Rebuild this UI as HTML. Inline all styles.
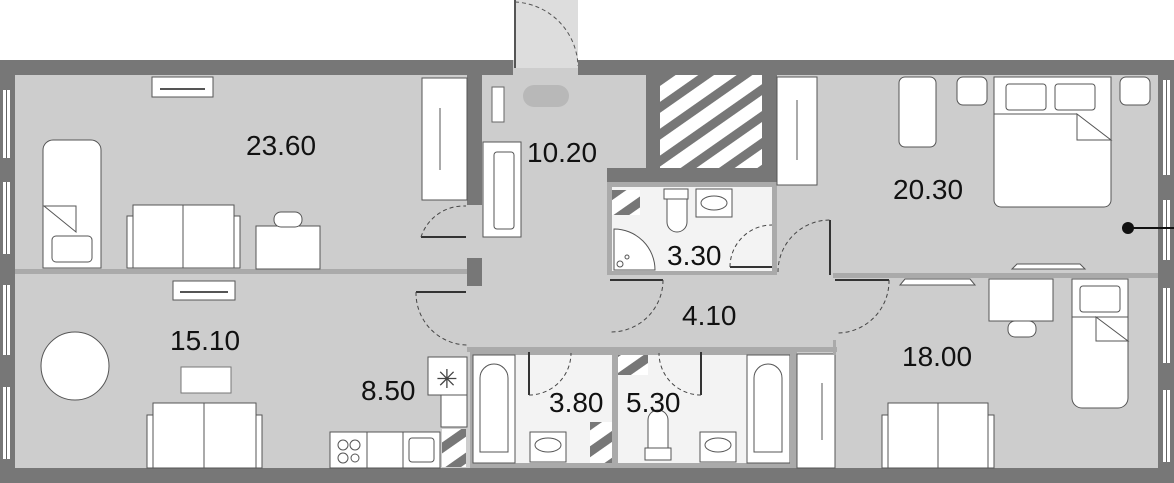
<!DOCTYPE html>
<html><head><meta charset="utf-8"><style>
html,body{margin:0;padding:0;background:#fff;}
svg{display:block;}
text{font-family:"Liberation Sans",sans-serif;font-size:28px;fill:#111;}
</style></head><body>
<svg width="1174" height="483" viewBox="0 0 1174 483" xmlns="http://www.w3.org/2000/svg">
<defs>
<pattern id="hatch" patternUnits="userSpaceOnUse" width="22" height="22" patternTransform="rotate(-35)">
<rect width="22" height="22" fill="#fff"/><rect width="22" height="9" fill="#777"/>
</pattern>
</defs>
<rect x="0" y="60" width="1174" height="423" fill="#cdcdcd"/>
<rect x="515" y="0" width="63" height="68" fill="#ddd"/>
<line x1="515" y1="0" x2="515" y2="68" stroke="#555" stroke-width="2"/>
<path d="M515 2 A66 66 0 0 1 578 66" fill="none" stroke="#555" stroke-dasharray="4 3"/>
<rect x="0" y="60" width="513" height="15" fill="#777"/>
<rect x="578" y="60" width="596" height="15" fill="#777"/>
<!-- left wall -->
<rect x="0" y="60" width="15" height="423" fill="#777"/>
<rect x="3" y="90" width="7" height="68" fill="#fff"/><line x1="6.5" y1="90" x2="6.5" y2="158" stroke="#666"/>
<rect x="3" y="182" width="7" height="72" fill="#fff"/><line x1="6.5" y1="182" x2="6.5" y2="254" stroke="#666"/>
<rect x="3" y="285" width="7" height="70" fill="#fff"/><line x1="6.5" y1="285" x2="6.5" y2="355" stroke="#666"/>
<rect x="3" y="387" width="7" height="72" fill="#fff"/><line x1="6.5" y1="387" x2="6.5" y2="459" stroke="#666"/>
<!-- right wall -->
<rect x="1158" y="60" width="16" height="423" fill="#777"/>
<rect x="1163" y="80" width="7" height="95" fill="#fff"/><line x1="1166.5" y1="80" x2="1166.5" y2="175" stroke="#666"/>
<rect x="1163" y="200" width="7" height="60" fill="#fff"/><line x1="1166.5" y1="200" x2="1166.5" y2="260" stroke="#666"/>
<rect x="1163" y="288" width="7" height="75" fill="#fff"/><line x1="1166.5" y1="288" x2="1166.5" y2="363" stroke="#666"/>
<rect x="1163" y="390" width="7" height="72" fill="#fff"/><line x1="1166.5" y1="390" x2="1166.5" y2="462" stroke="#666"/>
<rect x="0" y="468" width="1174" height="15" fill="#777"/>
<!-- partitions -->
<rect x="15" y="269" width="453" height="5" fill="#aaa"/>
<rect x="467" y="75" width="15" height="130" fill="#777"/>
<rect x="467" y="258" width="15" height="28" fill="#777"/>
<line x1="421" y1="237" x2="466" y2="237" stroke="#333" stroke-width="2"/>
<path d="M421 237 A45 45 0 0 1 466 206" fill="none" stroke="#444" stroke-dasharray="4 3"/>
<line x1="416" y1="292" x2="466" y2="292" stroke="#333" stroke-width="2"/>
<path d="M416 292 A52 52 0 0 0 468 345" fill="none" stroke="#444" stroke-dasharray="4 3"/>
<rect x="646" y="75" width="14" height="107" fill="#777"/>
<rect x="660" y="75" width="102" height="93" fill="url(#hatch)"/>
<rect x="762" y="75" width="15" height="107" fill="#777"/>
<rect x="607" y="168" width="170" height="14" fill="#777"/>
<!-- bath 3.30 -->
<rect x="607" y="182" width="170" height="93" fill="#aaa"/>
<rect x="612" y="187" width="160" height="84" fill="#f3f3f3"/>
<rect x="612" y="190" width="28" height="25" fill="url(#hatch)"/>
<path d="M614 270 L614 229 A41 41 0 0 1 655 270 Z" fill="#fff" stroke="#555"/>
<circle cx="620" cy="264" r="3" fill="none" stroke="#555"/><circle cx="627" cy="257" r="2" fill="none" stroke="#555"/>
<rect x="664" y="189" width="24" height="10" fill="#fff" stroke="#555"/>
<path d="M667 199 L667 222 A10 10 0 0 0 687 222 L687 199 Z" fill="#fff" stroke="#555"/>
<rect x="696" y="189" width="36" height="28" fill="#fff" stroke="#555"/>
<ellipse cx="714" cy="203" rx="13" ry="7" fill="none" stroke="#555"/>
<line x1="730" y1="267" x2="772" y2="267" stroke="#333" stroke-width="2"/>
<path d="M730 267 A42 42 0 0 1 772 225" fill="none" stroke="#444" stroke-dasharray="4 3"/>
<line x1="830" y1="220" x2="830" y2="275" stroke="#333" stroke-width="2"/>
<path d="M778 272 A52 52 0 0 1 830 220" fill="none" stroke="#444" stroke-dasharray="4 3"/>
<rect x="833" y="273" width="325" height="5" fill="#aaa"/>
<line x1="610" y1="280" x2="663" y2="280" stroke="#333" stroke-width="2"/>
<path d="M663 280 A52 52 0 0 1 611 332" fill="none" stroke="#444" stroke-dasharray="4 3"/>
<line x1="835" y1="280" x2="889" y2="280" stroke="#333" stroke-width="2"/>
<path d="M889 280 A52 52 0 0 1 837 333" fill="none" stroke="#444" stroke-dasharray="4 3"/>
<rect x="777" y="77" width="40" height="108" fill="#fff" stroke="#555"/>
<line x1="797" y1="100" x2="797" y2="160" stroke="#555"/>
<rect x="422" y="78" width="45" height="122" fill="#fff" stroke="#555"/>
<line x1="440" y1="108" x2="440" y2="170" stroke="#555"/>
<rect x="483" y="142" width="38" height="95" fill="#fff" stroke="#555"/>
<rect x="494" y="152" width="20" height="77" rx="3" fill="#fff" stroke="#555"/>
<rect x="523" y="85" width="46" height="22" rx="11" fill="#b8b8b8"/>
<rect x="492" y="87" width="12" height="35" fill="#fff" stroke="#666"/>
<!-- bathrooms bottom -->
<rect x="467" y="347" width="370" height="5" fill="#aaa"/>
<rect x="470" y="352" width="142" height="116" fill="#aaa"/>
<rect x="473" y="355" width="139" height="108" fill="#f3f3f3"/>
<rect x="618" y="352" width="172" height="116" fill="#aaa"/>
<rect x="618" y="355" width="169" height="108" fill="#f3f3f3"/>
<rect x="612" y="352" width="6" height="116" fill="#aaa"/>
<rect x="618" y="355" width="30" height="20" fill="url(#hatch)"/>
<rect x="590" y="422" width="22" height="41" fill="url(#hatch)"/>
<rect x="473" y="355" width="42" height="108" fill="#fff" stroke="#555"/>
<path d="M480 452 L480 378 A14 14 0 0 1 508 378 L508 452 Z" fill="#fff" stroke="#555"/>
<rect x="530" y="432" width="36" height="30" fill="#fff" stroke="#555"/>
<ellipse cx="548" cy="445" rx="13" ry="7" fill="none" stroke="#555"/>
<line x1="529" y1="352" x2="529" y2="395" stroke="#333" stroke-width="2"/>
<path d="M529 395 A42 42 0 0 0 571 353" fill="none" stroke="#444" stroke-dasharray="4 3"/>
<line x1="701" y1="352" x2="701" y2="395" stroke="#333" stroke-width="2"/>
<path d="M701 395 A42 42 0 0 1 659 353" fill="none" stroke="#444" stroke-dasharray="4 3"/>
<path d="M648 420 A10 10 0 0 1 668 420 L668 448 L648 448 Z" fill="#fff" stroke="#555"/>
<rect x="645" y="448" width="26" height="12" fill="#fff" stroke="#555"/>
<rect x="700" y="432" width="36" height="30" fill="#fff" stroke="#555"/>
<ellipse cx="718" cy="445" rx="13" ry="7" fill="none" stroke="#555"/>
<rect x="747" y="355" width="43" height="108" fill="#fff" stroke="#555"/>
<path d="M754 452 L754 378 A14 14 0 0 1 782 378 L782 452 Z" fill="#fff" stroke="#555"/>
<rect x="790" y="352" width="7" height="116" fill="#aaa"/>
<rect x="797" y="354" width="38" height="114" fill="#fff" stroke="#555"/>
<line x1="822" y1="383" x2="822" y2="440" stroke="#555"/>
<rect x="833" y="340" width="3" height="15" fill="#aaa"/>
<!-- kitchen -->
<rect x="428" y="357" width="39" height="38" fill="#fff" stroke="#555"/>
<text x="436" y="388" style="font-size:26px;fill:#444">✳</text>
<rect x="441" y="395" width="26" height="32" fill="#fff" stroke="#555"/>
<rect x="442" y="429" width="24" height="38" fill="url(#hatch)"/>
<rect x="330" y="432" width="37" height="36" fill="#fff" stroke="#555"/>
<circle cx="343" cy="445" r="5" fill="none" stroke="#555"/><circle cx="355" cy="445" r="5" fill="none" stroke="#555"/>
<circle cx="343" cy="458" r="5" fill="none" stroke="#555"/><circle cx="355" cy="458" r="4" fill="none" stroke="#555"/>
<rect x="367" y="432" width="36" height="36" fill="#fff" stroke="#555"/>
<rect x="403" y="432" width="37" height="36" fill="#fff" stroke="#555"/>
<rect x="409" y="438" width="25" height="24" rx="3" fill="none" stroke="#555"/>
<!-- 23.60 furniture -->
<rect x="152" y="77" width="61" height="20" fill="#fff" stroke="#555"/>
<line x1="160" y1="89" x2="205" y2="89" stroke="#555" stroke-width="2"/>
<path d="M43 268 L43 150 A10 10 0 0 1 53 140 L91 140 A10 10 0 0 1 101 150 L101 268 Z" fill="#fff" stroke="#555"/>
<path d="M44 206 L76 206 L76 232 Z" fill="#fff" stroke="#555"/>
<rect x="52" y="236" width="40" height="26" rx="4" fill="#fff" stroke="#555"/>
<rect x="127" y="216" width="113" height="52" fill="#fff" stroke="#555"/>
<rect x="133" y="205" width="101" height="63" fill="#fff" stroke="#555"/>
<line x1="183" y1="205" x2="183" y2="268" stroke="#555"/>
<rect x="256" y="226" width="64" height="43" fill="#fff" stroke="#555"/>
<rect x="274" y="212" width="28" height="15" rx="7" fill="#fff" stroke="#555"/>
<!-- 15.10 furniture -->
<rect x="173" y="281" width="62" height="19" fill="#fff" stroke="#555"/>
<line x1="180" y1="292" x2="228" y2="292" stroke="#555" stroke-width="2"/>
<circle cx="75" cy="366" r="34" fill="#fff" stroke="#555"/>
<rect x="181" y="367" width="50" height="26" fill="#fff" stroke="#777"/>
<rect x="147" y="415" width="115" height="53" fill="#fff" stroke="#555"/>
<rect x="153" y="403" width="103" height="65" fill="#fff" stroke="#555"/>
<line x1="204" y1="403" x2="204" y2="468" stroke="#555"/>
<!-- 20.30 furniture -->
<rect x="899" y="77" width="37" height="70" rx="6" fill="#fff" stroke="#555"/>
<rect x="957" y="77" width="30" height="28" rx="6" fill="#fff" stroke="#555"/>
<rect x="1120" y="77" width="30" height="28" rx="6" fill="#fff" stroke="#555"/>
<path d="M994 77 L1111 77 L1111 200 A7 7 0 0 1 1104 207 L1001 207 A7 7 0 0 1 994 200 Z" fill="#fff" stroke="#555"/>
<line x1="994" y1="114" x2="1077" y2="114" stroke="#555"/>
<path d="M1077 114 L1077 140 L1111 140 Z" fill="#fff" stroke="#555"/>
<rect x="1006" y="84" width="40" height="26" rx="3" fill="#fff" stroke="#555"/>
<rect x="1055" y="84" width="40" height="26" rx="3" fill="#fff" stroke="#555"/>
<circle cx="1128" cy="228" r="6" fill="#111"/>
<line x1="1128" y1="228" x2="1174" y2="228" stroke="#111" stroke-width="2"/>
<!-- 18.00 furniture -->
<path d="M900 285 L975 285 L970 279 L905 279 Z" fill="#fff" stroke="#555"/>
<path d="M1012 269 L1085 269 L1080 264 L1017 264 Z" fill="#fff" stroke="#555"/>
<rect x="989" y="279" width="64" height="42" fill="#fff" stroke="#555"/>
<rect x="1008" y="321" width="28" height="16" rx="7" fill="#fff" stroke="#555"/>
<path d="M1072 279 L1128 279 L1128 398 A10 10 0 0 1 1118 408 L1082 408 A10 10 0 0 1 1072 398 Z" fill="#fff" stroke="#555"/>
<line x1="1072" y1="317" x2="1128" y2="317" stroke="#555"/>
<path d="M1096 317 L1096 341 L1128 341 Z" fill="#fff" stroke="#555"/>
<rect x="1080" y="286" width="40" height="26" rx="3" fill="#fff" stroke="#555"/>
<rect x="882" y="415" width="112" height="53" fill="#fff" stroke="#555"/>
<rect x="888" y="403" width="100" height="65" fill="#fff" stroke="#555"/>
<line x1="938" y1="403" x2="938" y2="468" stroke="#555"/>
<!-- labels -->
<text x="246" y="155">23.60</text>
<text x="527" y="162">10.20</text>
<text x="893" y="199">20.30</text>
<text x="667" y="265">3.30</text>
<text x="682" y="325">4.10</text>
<text x="170" y="350">15.10</text>
<text x="361" y="400">8.50</text>
<text x="549" y="412">3.80</text>
<text x="626" y="412">5.30</text>
<text x="902" y="366">18.00</text>
</svg>
</body></html>
